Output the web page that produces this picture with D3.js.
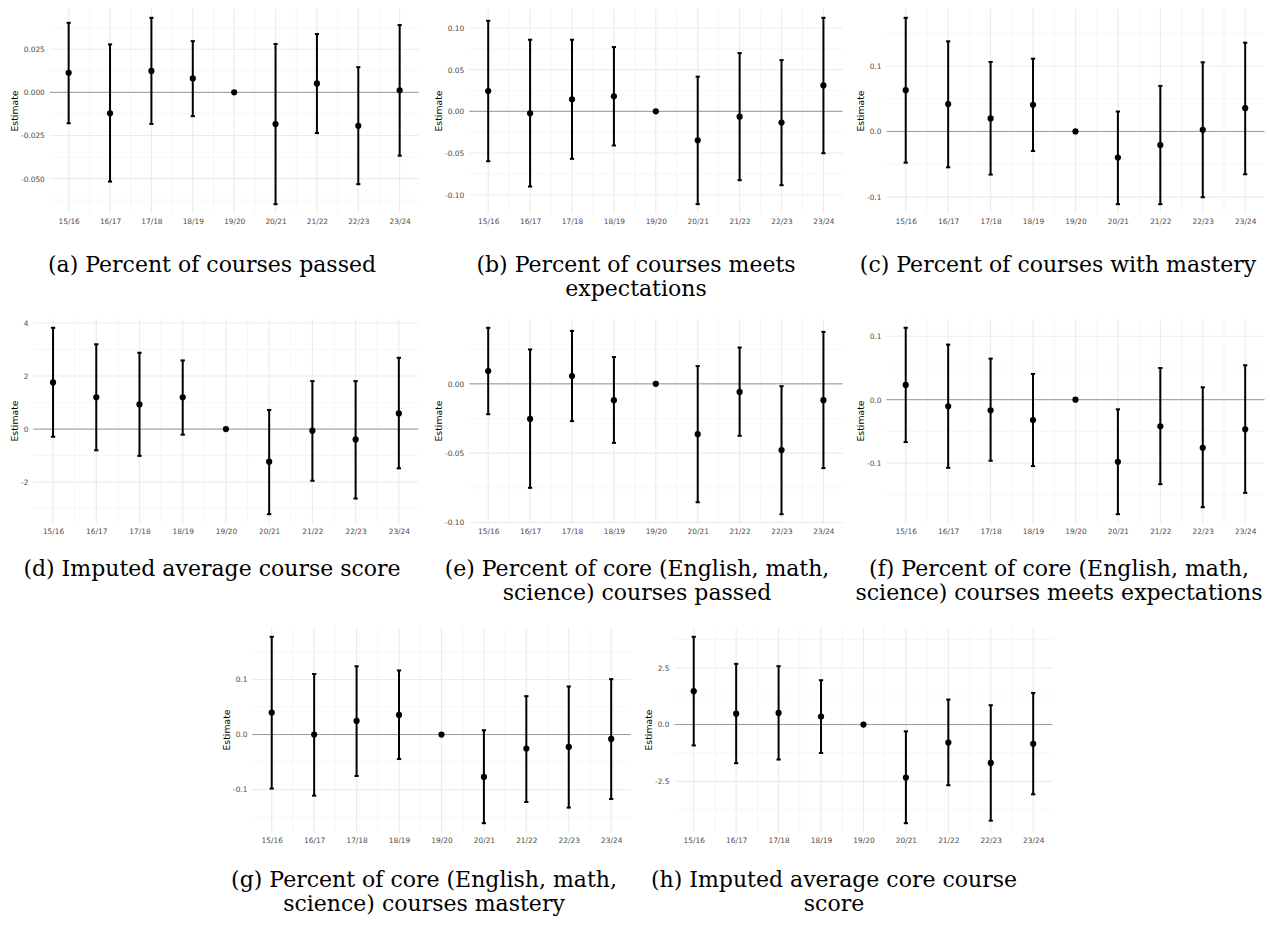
<!DOCTYPE html>
<html>
<head>
<meta charset="utf-8">
<script src="https://cdn.jsdelivr.net/npm/d3@7"></script>
<style>
  body { margin: 0; background: #fff; }
  .tick-label { font-family: "DejaVu Sans", sans-serif; font-size: 7.4px; fill: #4d4d4d; }
  .axis-title { font-family: "DejaVu Sans", sans-serif; font-size: 9.3px; fill: #000; }
  .caption { font-family: "DejaVu Serif", serif; font-size: 22px; fill: #000; }
</style>
</head>
<body>
<div id="chart"></div>
<script>
// School years on the x axis (19/20 is the reference year)
const years = ["15/16", "16/17", "17/18", "18/19", "19/20", "20/21", "21/22", "22/23", "23/24"];

// (a) Percent of courses passed
const passedEst = [0.0113, -0.0121, 0.0124, 0.0081, 0, -0.0184, 0.0052, -0.0194, 0.0012];
const passedLo  = [-0.0179, -0.0517, -0.0183, -0.0138, 0, -0.0648, -0.0236, -0.0532, -0.0367];
const passedHi  = [0.0403, 0.0278, 0.0432, 0.0297, 0, 0.0280, 0.0338, 0.0146, 0.0390];

// (b) Percent of courses meets expectations
const meetsEst = [0.0244, -0.0024, 0.0144, 0.0180, 0, -0.0347, -0.0064, -0.0135, 0.0311];
const meetsLo  = [-0.0599, -0.0902, -0.0570, -0.0410, 0, -0.1114, -0.0826, -0.0886, -0.0503];
const meetsHi  = [0.1086, 0.0859, 0.0859, 0.0771, 0, 0.0416, 0.0699, 0.0615, 0.1122];

// (c) Percent of courses with mastery
const masteryEst = [0.0630, 0.0417, 0.0198, 0.0406, 0, -0.0400, -0.0207, 0.0025, 0.0355];
const masteryLo  = [-0.0477, -0.0548, -0.0659, -0.0299, 0, -0.1111, -0.1111, -0.1005, -0.0654];
const masteryHi  = [0.1735, 0.1376, 0.1061, 0.1111, 0, 0.0304, 0.0695, 0.1056, 0.1355];

// (d) Imputed average course score
const scoreEst = [1.76, 1.20, 0.93, 1.20, 0, -1.23, -0.06, -0.39, 0.59];
const scoreLo  = [-0.29, -0.80, -1.01, -0.21, 0, -3.21, -1.95, -2.62, -1.48];
const scoreHi  = [3.82, 3.20, 2.88, 2.59, 0, 0.72, 1.81, 1.81, 2.69];

// (e) Percent of core courses passed
const corePassedEst = [0.0092, -0.0253, 0.0056, -0.0118, 0, -0.0363, -0.0058, -0.0478, -0.0118];
const corePassedLo  = [-0.0219, -0.0750, -0.0269, -0.0426, 0, -0.0854, -0.0375, -0.0940, -0.0608];
const corePassedHi  = [0.0404, 0.0248, 0.0382, 0.0193, 0, 0.0128, 0.0262, -0.0017, 0.0375];

// (f) Percent of core courses meets expectations
const coreMeetsEst = [0.0232, -0.0105, -0.0168, -0.0320, 0, -0.0979, -0.0420, -0.0758, -0.0468];
const coreMeetsLo  = [-0.0668, -0.1074, -0.0963, -0.1047, 0, -0.1805, -0.1332, -0.1695, -0.1469];
const coreMeetsHi  = [0.1133, 0.0869, 0.0648, 0.0406, 0, -0.0152, 0.0500, 0.0195, 0.0543];

// (g) Percent of core courses mastery
const coreMasteryEst = [0.0400, 0.0000, 0.0247, 0.0356, 0, -0.0770, -0.0255, -0.0225, -0.0080];
const coreMasteryLo  = [-0.0982, -0.1110, -0.0753, -0.0444, 0, -0.1610, -0.1225, -0.1327, -0.1170];
const coreMasteryHi  = [0.1775, 0.1100, 0.1240, 0.1164, 0, 0.0078, 0.0697, 0.0873, 0.1006];

// (h) Imputed average core course score
const coreScoreEst = [1.47, 0.48, 0.51, 0.35, 0, -2.33, -0.79, -1.69, -0.85];
const coreScoreLo  = [-0.92, -1.70, -1.54, -1.25, 0, -4.34, -2.67, -4.23, -3.07];
const coreScoreHi  = [3.86, 2.67, 2.57, 1.95, 0, -0.30, 1.10, 0.85, 1.39];

// Y axis breaks and their labels
const ticksA = [-0.050, -0.025, 0, 0.025];  const labelsA = ["-0.050", "-0.025", "0.000", "0.025"];
const ticksB = [-0.10, -0.05, 0, 0.05, 0.10]; const labelsB = ["-0.10", "-0.05", "0.00", "0.05", "0.10"];
const ticksC = [-0.1, 0, 0.1];              const labelsC = ["-0.1", "0.0", "0.1"];
const ticksD = [-2, 0, 2, 4];               const labelsD = ["-2", "0", "2", "4"];
const ticksE = [-0.10, -0.05, 0];           const labelsE = ["-0.10", "-0.05", "0.00"];
const ticksF = [-0.1, 0, 0.1];              const labelsF = ["-0.1", "0.0", "0.1"];
const ticksG = [-0.1, 0, 0.1];              const labelsG = ["-0.1", "0.0", "0.1"];
const ticksH = [-2.5, 0, 2.5];              const labelsH = ["-2.5", "0.0", "2.5"];

// Sub-figure captions (one entry per line)
const captionA = ["(a) Percent of courses passed"];
const captionB = ["(b) Percent of courses meets", "expectations"];
const captionC = ["(c) Percent of courses with mastery"];
const captionD = ["(d) Imputed average course score"];
const captionE = ["(e) Percent of core (English, math,", "science) courses passed"];
const captionF = ["(f) Percent of core (English, math,", "science) courses meets expectations"];
const captionG = ["(g) Percent of core (English, math,", "science) courses mastery"];
const captionH = ["(h) Imputed average core course", "score"];

const svg = d3.select("#chart")
    .append("svg")
    .attr("width", 1270)
    .attr("height", 930);

// Cell layout: x of cell, top of plot panel
const panels = [
    { x: 0,   top: 8.5,   est: passedEst, lo: passedLo, hi: passedHi, ticks: ticksA, labels: labelsA, caption: captionA, capX: 212, capY: 272 },
    { x: 424, top: 8.5,   est: meetsEst, lo: meetsLo, hi: meetsHi, ticks: ticksB, labels: labelsB, caption: captionB, capX: 636, capY: 272 },
    { x: 846, top: 8.5,   est: masteryEst, lo: masteryLo, hi: masteryHi, ticks: ticksC, labels: labelsC, caption: captionC, capX: 1058, capY: 272 },
    { x: 0,   top: 318.5, est: scoreEst, lo: scoreLo, hi: scoreHi, ticks: ticksD, labels: labelsD, caption: captionD, capX: 212, capY: 576 },
    { x: 424, top: 318.5, est: corePassedEst, lo: corePassedLo, hi: corePassedHi, ticks: ticksE, labels: labelsE, caption: captionE, capX: 637, capY: 576 },
    { x: 846, top: 318.5, est: coreMeetsEst, lo: coreMeetsLo, hi: coreMeetsHi, ticks: ticksF, labels: labelsF, caption: captionF, capX: 1059, capY: 576 },
    { x: 212, top: 627.5, est: coreMasteryEst, lo: coreMasteryLo, hi: coreMasteryHi, ticks: ticksG, labels: labelsG, caption: captionG, capX: 424, capY: 887 },
    { x: 634, top: 627.5, est: coreScoreEst, lo: coreScoreLo, hi: coreScoreHi, ticks: ticksH, labels: labelsH, caption: captionH, capX: 834, capY: 887 }
];

const panelHeight = 205;

function textWidth(str) {
    const t = svg.append("text").attr("class", "tick-label").text(str);
    const w = t.node().getComputedTextLength();
    t.remove();
    return w;
}

function drawPanel(p) {
    const left = p.x + 21 + d3.max(p.labels, textWidth) + 5;
    const right = p.x + 418.5;
    const top = p.top;
    const bottom = p.top + panelHeight;

    // ggplot style: x continuous with errorbar width, y expanded by 5%
    const x = d3.scalePoint()
        .domain(years)
        .range([left, right])
        .padding(0.455);
    const step = x.step();

    const yMin = d3.min(p.lo), yMax = d3.max(p.hi);
    const pad = (yMax - yMin) * 0.05;
    const y = d3.scaleLinear()
        .domain([yMin - pad, yMax + pad])
        .range([bottom, top]);

    const g = svg.append("g");

    // Minor grid (midpoints between breaks)
    const tStep = p.ticks[1] - p.ticks[0];
    const minorY = d3.range(p.ticks[0] - tStep / 2, p.ticks[p.ticks.length - 1] + tStep, tStep)
        .filter(v => v >= y.domain()[0] && v <= y.domain()[1]);
    g.selectAll(".minor-y")
        .data(minorY)
        .join("line")
        .attr("x1", left).attr("x2", right)
        .attr("y1", d => y(d)).attr("y2", d => y(d))
        .attr("stroke", "#f2f2f2").attr("stroke-width", 0.7);

    g.selectAll(".minor-x")
        .data(years.slice(1))
        .join("line")
        .attr("x1", d => x(d) - step / 2).attr("x2", d => x(d) - step / 2)
        .attr("y1", top).attr("y2", bottom)
        .attr("stroke", "#f2f2f2").attr("stroke-width", 0.7);

    // Major grid
    g.selectAll(".major-y")
        .data(p.ticks)
        .join("line")
        .attr("x1", left).attr("x2", right)
        .attr("y1", d => y(d)).attr("y2", d => y(d))
        .attr("stroke", "#ebebeb").attr("stroke-width", 1.1);

    g.selectAll(".major-x")
        .data(years)
        .join("line")
        .attr("x1", d => x(d)).attr("x2", d => x(d))
        .attr("y1", top).attr("y2", bottom)
        .attr("stroke", "#ebebeb").attr("stroke-width", 1.1);

    // Zero reference line
    g.append("line")
        .attr("x1", left).attr("x2", right)
        .attr("y1", y(0)).attr("y2", y(0))
        .attr("stroke", "#9a9a9a").attr("stroke-width", 1);

    // Axes (labels only)
    const yAxis = g.append("g")
        .attr("transform", `translate(${left - 5},0)`)
        .call(d3.axisLeft(y).tickValues(p.ticks).tickSize(0).tickPadding(0)
            .tickFormat((d, i) => p.labels[i]));
    yAxis.select(".domain").remove();
    yAxis.selectAll("text").attr("class", "tick-label").attr("fill", null);

    const xAxis = g.append("g")
        .attr("transform", `translate(0,${bottom + 3})`)
        .call(d3.axisBottom(x).tickSize(0).tickPadding(0));
    xAxis.select(".domain").remove();
    xAxis.selectAll("text").attr("class", "tick-label").attr("fill", null).attr("dy", "0.95em");

    // Y axis title
    g.append("text")
        .attr("class", "axis-title")
        .attr("transform", `translate(${p.x + 18},${(top + bottom) / 2}) rotate(-90)`)
        .attr("text-anchor", "middle")
        .text("Estimate");

    // Error bars
    const capW = step * 0.05;
    const bars = g.selectAll(".bar")
        .data(years.map((yr, i) => ({ yr, est: p.est[i], lo: p.lo[i], hi: p.hi[i] })))
        .join("g");

    bars.append("line")
        .attr("x1", d => x(d.yr)).attr("x2", d => x(d.yr))
        .attr("y1", d => y(d.lo)).attr("y2", d => y(d.hi))
        .attr("stroke", "#000").attr("stroke-width", 2);

    bars.selectAll(".cap")
        .data(d => [d.lo, d.hi].map(v => ({ yr: d.yr, v })))
        .join("line")
        .attr("x1", d => x(d.yr) - capW).attr("x2", d => x(d.yr) + capW)
        .attr("y1", d => y(d.v)).attr("y2", d => y(d.v))
        .attr("stroke", "#000").attr("stroke-width", 2);

    bars.append("circle")
        .attr("cx", d => x(d.yr))
        .attr("cy", d => y(d.est))
        .attr("r", 3.1)
        .attr("fill", "#000");

    // Caption
    svg.append("text")
        .attr("class", "caption")
        .attr("text-anchor", "middle")
        .selectAll("tspan")
        .data(p.caption)
        .join("tspan")
        .attr("x", p.capX)
        .attr("y", (d, i) => p.capY + i * 24)
        .text(d => d);
}

panels.forEach(drawPanel);
</script>
</body>
</html>
